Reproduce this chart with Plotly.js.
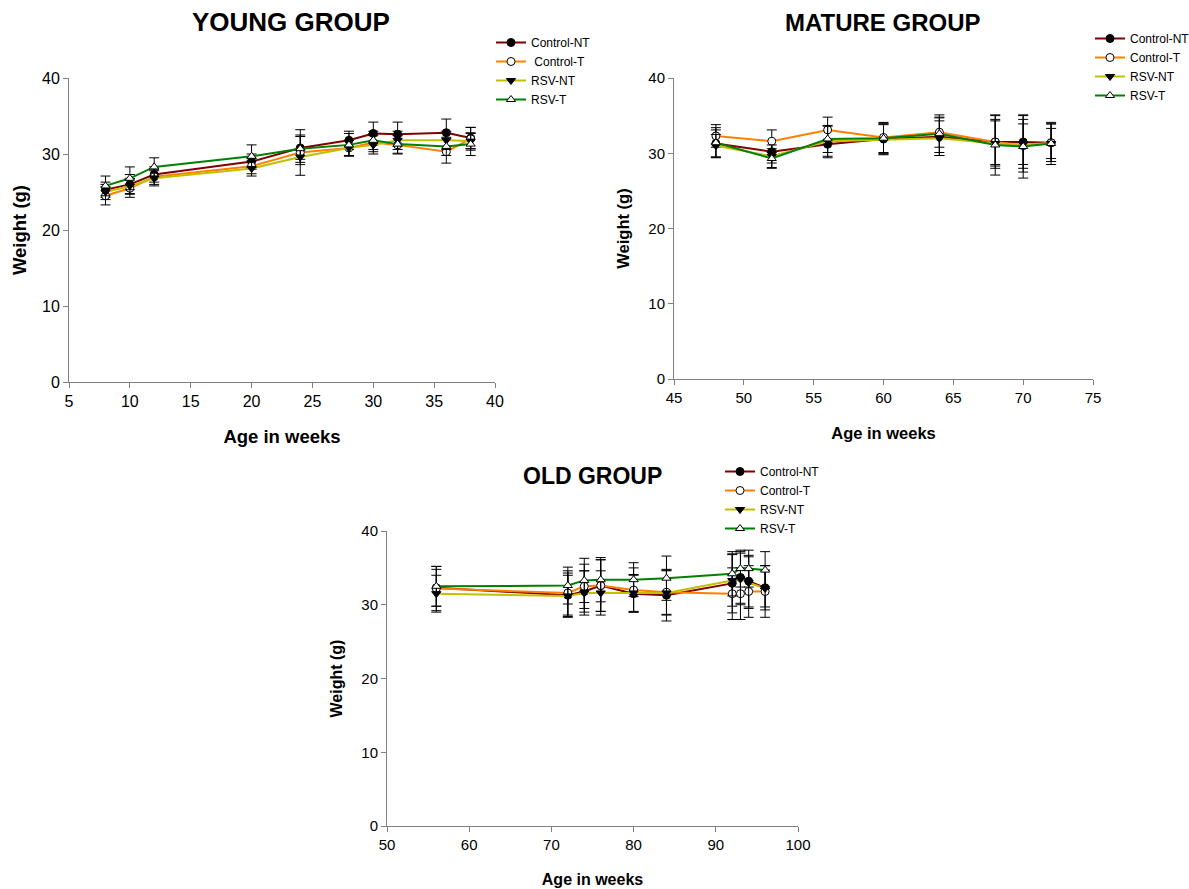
<!DOCTYPE html>
<html>
<head>
<meta charset="utf-8">
<script src="https://cdn.plot.ly/plotly-3.0.1.min.js"></script>
<style>html,body{margin:0;padding:0;background:#fff;}#chart{width:1189px;height:889px;}</style>
</head>
<body>
<div id="chart"></div>
<script>
// ---------- DATA ----------
const youngNames = ["Control-NT", " Control-T", "RSV-NT", "RSV-T"];
const matureNames = ["Control-NT", "Control-T", "RSV-NT", "RSV-T"];
const oldNames = ["Control-NT", "Control-T", "RSV-NT", "RSV-T"];

// Young group
const youngWeeks = [8, 10, 12, 20, 24, 28, 30, 32, 36, 38];
const youngControlNT = [25.3, 26.0, 27.3, 29.0, 30.8, 31.8, 32.7, 32.6, 32.8, 32.1];
const youngControlT  = [24.5, 25.5, 27.0, 28.4, 30.2, 30.8, 31.5, 31.2, 30.3, 32.0];
const youngRSVNT     = [25.0, 25.8, 26.8, 28.1, 29.6, 30.8, 31.2, 31.8, 31.8, 31.7];
const youngRSVT      = [25.8, 26.8, 28.3, 29.7, 30.7, 31.2, 31.8, 31.3, 31.0, 31.3];
const youngErrControlNT = [1.0, 1.3, 1.0, 1.0, 1.5, 1.2, 1.5, 1.6, 1.8, 1.4];
const youngErrControlT  = [1.2, 1.2, 1.0, 1.0, 3.0, 1.0, 1.2, 1.2, 1.5, 1.5];
const youngErrRSVNT     = [1.0, 1.0, 1.0, 1.0, 1.0, 1.0, 1.2, 1.2, 1.2, 1.0];
const youngErrRSVT      = [1.3, 1.5, 1.2, 1.5, 1.8, 1.5, 1.2, 1.2, 1.2, 1.5];

// Mature group
const matureWeeks = [48, 52, 56, 60, 64, 68, 70, 72];
const matureControlNT = [31.3, 30.2, 31.2, 31.9, 32.2, 31.5, 31.5, 31.4];
const matureControlT  = [32.3, 31.6, 33.1, 32.1, 32.8, 31.5, 31.0, 31.4];
const matureRSVNT     = [31.0, 29.6, 31.6, 31.8, 32.0, 31.3, 31.2, 31.3];
const matureRSVT      = [31.4, 29.3, 31.9, 32.0, 32.6, 31.1, 30.9, 31.3];
const matureErrControlNT = [1.8, 1.5, 1.8, 2.0, 2.5, 3.5, 3.5, 2.5];
const matureErrControlT  = [1.5, 1.5, 1.7, 2.0, 2.0, 3.0, 3.5, 2.5];
const matureErrRSVNT     = [1.5, 1.5, 2.0, 2.0, 2.3, 3.0, 2.7, 2.0];
const matureErrRSVT      = [2.0, 1.3, 1.8, 2.0, 2.5, 4.0, 4.2, 2.8];

// Old group
const oldWeeks = [56, 72, 74, 76, 80, 84, 92, 93, 94, 96];
const oldControlNT = [32.3, 31.3, 31.8, 32.6, 31.5, 31.3, 32.9, 33.7, 33.2, 32.3];
const oldControlT  = [32.2, 31.6, 32.5, 32.6, 32.0, 31.7, 31.5, 31.5, 31.8, 31.8];
const oldRSVNT     = [31.5, 31.2, 31.6, 31.6, 31.6, 31.6, 33.3, 33.5, 33.0, 32.2];
const oldRSVT      = [32.5, 32.6, 33.3, 33.4, 33.4, 33.6, 34.2, 34.9, 34.9, 34.7];
const oldErrControlNT = [2.5, 3.0, 2.8, 3.5, 2.5, 3.5, 4.0, 3.5, 3.5, 3.0];
const oldErrControlT  = [3.0, 3.0, 3.0, 3.5, 3.0, 3.0, 3.5, 3.5, 3.5, 3.5];
const oldErrRSVNT     = [2.5, 2.8, 3.0, 3.0, 2.5, 3.0, 3.5, 3.5, 3.5, 2.5];
const oldErrRSVT      = [2.7, 2.5, 3.0, 3.0, 2.3, 3.0, 3.0, 2.5, 2.5, 2.5];

const groupTitles = ["YOUNG GROUP", "MATURE GROUP", "OLD GROUP"];
const xTitle = "Age in weeks";
const yTitle = "Weight (g)";

// ---------- STYLE ----------
const FONT = "Liberation Sans, Arial, sans-serif";
const lineColors = ["#800000", "#FF8000", "#C0C000", "#008000"];
const markerStyles = [
  {symbol: "circle", color: "#000000"},
  {symbol: "circle", color: "#FFFFFF"},
  {symbol: "triangle-down", color: "#000000"},
  {symbol: "triangle-up", color: "#FFFFFF"}
];

function makeTraces(names, x, ys, errs, xa, ya, legendId) {
  return ys.map((y, i) => ({
    type: "scatter",
    mode: "lines+markers",
    x: x, y: y,
    name: names[i],
    xaxis: xa, yaxis: ya,
    legend: legendId,
    line: {color: lineColors[i], width: 2},
    marker: {symbol: markerStyles[i].symbol, color: markerStyles[i].color, size: 8,
             line: {color: "#000000", width: 1}},
    error_y: {type: "data", array: errs[i], visible: true, color: "#000000", thickness: 1, width: 5}
  }));
}

const traces = [].concat(
  makeTraces(youngNames, youngWeeks, [youngControlNT, youngControlT, youngRSVNT, youngRSVT],
    [youngErrControlNT, youngErrControlT, youngErrRSVNT, youngErrRSVT], "x", "y", "legend"),
  makeTraces(matureNames, matureWeeks, [matureControlNT, matureControlT, matureRSVNT, matureRSVT],
    [matureErrControlNT, matureErrControlT, matureErrRSVNT, matureErrRSVT], "x2", "y2", "legend2"),
  makeTraces(oldNames, oldWeeks, [oldControlNT, oldControlT, oldRSVNT, oldRSVT],
    [oldErrControlNT, oldErrControlT, oldErrRSVNT, oldErrRSVT], "x3", "y3", "legend3")
);

function xAxis(domain, range, dtick, anchor, tickSize, titleSize, standoff) {
  return {domain: domain, range: range, dtick: dtick, tick0: 0, anchor: anchor,
    showgrid: false, zeroline: false, showline: true, linecolor: "#808080", linewidth: 1,
    ticks: "outside", ticklen: 5, tickcolor: "#808080",
    tickfont: {family: FONT, size: tickSize, color: "#000"},
    title: {text: xTitle, font: {family: FONT, size: titleSize, color: "#000", weight: "bold"}, standoff: standoff}};
}
function yAxis(domain, anchor, tickSize, titleSize, standoff) {
  return {domain: domain, range: [0, 40], dtick: 10, anchor: anchor,
    showgrid: false, zeroline: false, showline: true, linecolor: "#808080", linewidth: 1,
    ticks: "outside", ticklen: 5, tickcolor: "#808080",
    tickfont: {family: FONT, size: tickSize, color: "#000"},
    title: {text: yTitle, font: {family: FONT, size: titleSize, color: "#000", weight: "bold"}, standoff: standoff}};
}
function legendCfg(x, y) {
  return {x: x, y: y, xanchor: "left", yanchor: "top", bgcolor: "rgba(0,0,0,0)",
    font: {family: FONT, size: 12, color: "#000"}, tracegroupgap: 0, itemwidth: 30};
}

const W = 1189, H = 889;
const layout = {
  width: W, height: H,
  margin: {l: 0, r: 0, t: 0, b: 0, autoexpand: false},
  paper_bgcolor: "#fff", plot_bgcolor: "#fff",
  showlegend: true,
  xaxis: xAxis([69 / W, 495 / W], [5, 40], 5, "y", 16, 18.5, 20),
  yaxis: yAxis([1 - 382 / H, 1 - 78 / H], "x", 16, 18.5, 10),
  xaxis2: xAxis([674 / W, 1093 / W], [45, 75], 5, "y2", 15, 16.5, 22),
  yaxis2: yAxis([1 - 379 / H, 1 - 78 / H], "x2", 15, 16.5, 14),
  xaxis3: xAxis([387 / W, 798 / W], [50, 100], 10, "y3", 15, 16, 21),
  yaxis3: yAxis([1 - 826 / H, 1 - 531 / H], "x3", 15, 16, 14),
  legend: legendCfg(491 / W, 1 - 28 / H),
  legend2: legendCfg(1090 / W, 1 - 24 / H),
  legend3: legendCfg(720 / W, 1 - 457 / H),
  annotations: [
    {text: groupTitles[0], x: 291 / W, y: 1 - 22 / H, size: 26},
    {text: groupTitles[1], x: 883 / W, y: 1 - 22 / H, size: 24},
    {text: groupTitles[2], x: 592 / W, y: 1 - 476 / H, size: 23}
  ].map(a => {
    const s = a.size; delete a.size;
    return Object.assign(a, {xref: "paper", yref: "paper", showarrow: false,
      xanchor: "center", yanchor: "middle",
      font: {family: FONT, size: s, color: "#000", weight: "bold"}});
  })
};

Plotly.newPlot("chart", traces, layout, {displayModeBar: false, staticPlot: true});
</script>
</body>
</html>
